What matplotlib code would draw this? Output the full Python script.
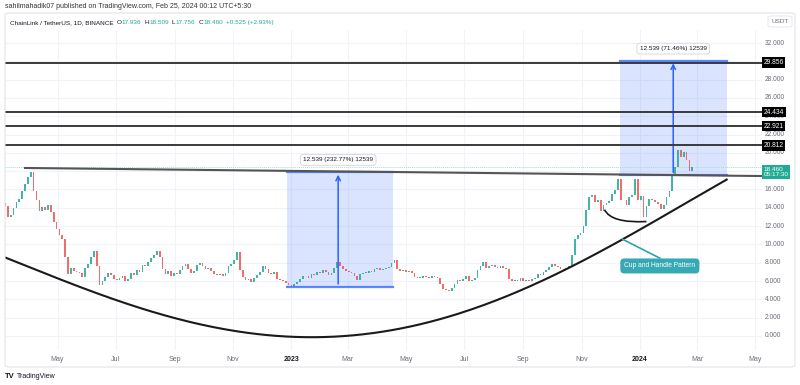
import numpy as np
import pandas as pd
import matplotlib
matplotlib.use("Agg")
import matplotlib.pyplot as plt
import matplotlib.dates as mdates
from matplotlib.patches import Rectangle, FancyBboxPatch, PathPatch
from matplotlib.path import Path

plt.rcParams["font.family"] = ["Liberation Sans", "DejaVu Sans"]

# closes every 3 days, 2022-03-07 .. 2024-02-25
closes = [
    14.2, 13.0, 13.2, 14.0, 14.6, 15.0, 15.8, 16.6, 17.4,            # Mar 22
    17.9, 15.8, 14.9, 13.7, 14.1, 13.8, 14.3, 13.5, 12.4, 11.7,      # Apr
    11.0, 10.6, 8.6, 6.8, 7.4, 7.1, 7.0, 6.9, 6.4, 7.4,              # May
    7.9, 8.6, 9.3, 7.6, 5.6, 6.0, 6.4, 6.9, 6.7, 6.2,                # Jun
    6.1, 6.3, 6.6, 6.0, 6.2, 6.9, 6.7, 7.2, 7.0, 7.8,                # Jul
    7.6, 8.1, 8.5, 8.8, 9.3, 8.6, 7.3, 6.8, 7.1, 6.6, 6.9,           # Aug
    6.8, 7.2, 7.6, 7.9, 7.3, 6.9, 7.1, 7.8, 8.0, 7.6,                # Sep
    7.3, 7.4, 7.1, 6.8, 6.7, 6.8, 6.6, 6.9, 7.6, 7.9,                # Oct
    8.3, 9.2, 7.2, 6.4, 6.1, 6.2, 5.9, 6.3, 6.7, 7.0,                # Nov
    7.6, 7.3, 6.9, 6.8, 7.0, 6.2, 6.1, 6.0, 5.8, 5.6,                # Dec
    5.5, 5.7, 5.9, 6.2, 6.6, 6.5, 6.3, 6.8, 6.7, 7.0, 6.9,           # Jan 23
    7.2, 7.0, 6.7, 6.9, 7.4, 8.1, 7.6, 7.3, 7.1,                     # Feb
    7.0, 6.9, 6.5, 6.1, 6.8, 6.9, 6.9, 7.1, 7.0, 7.3,                # Mar
    7.4, 7.2, 7.3, 7.4, 7.5, 8.0, 8.3, 7.3, 7.1, 7.2,                # Apr
    7.0, 7.1, 6.9, 6.4, 6.3, 6.3, 6.5, 6.4, 6.3, 6.6, 6.4,           # May
    6.3, 5.7, 5.1, 5.0, 4.9, 5.2, 5.7, 6.1, 6.0, 6.2,                # Jun
    6.5, 6.0, 6.1, 6.3, 7.2, 7.6, 8.1, 7.4, 7.6, 7.8,                # Jul
    7.5, 7.4, 7.6, 7.4, 7.3, 6.2, 6.0, 6.1, 6.0, 6.3,                # Aug
    6.0, 6.1, 6.0, 6.2, 6.3, 6.8, 6.7, 7.0, 7.2, 7.5,                # Sep
    7.9, 7.6, 7.5, 7.3, 7.2, 7.4, 7.6, 8.8, 10.6, 11.0, 11.3,        # Oct
    12.0, 13.8, 15.2, 15.4, 14.6, 14.8, 13.6, 14.3, 14.5, 14.7,      # Nov
    15.5, 15.9, 17.1, 14.9, 14.8, 14.3, 15.2, 15.4, 17.2, 14.8,      # Dec
    15.3, 13.0, 14.2, 15.0, 14.8, 14.6, 14.4, 13.9, 14.3, 15.2,      # Jan 24
    15.8, 17.6, 18.5, 20.3, 19.6, 20.1, 19.2, 18.0, 18.46,           # Feb
]
close_dates = pd.date_range("2022-03-07", "2024-02-25", freq="3D")
first_open = 14.5

level_prices = [29.856, 24.434, 22.921, 20.812]
last_price = 18.460
last_timer = "05:17:30"

resist_dates = ["2022-03-28", "2024-05-08"]
resist_prices = [18.35, 17.47]

cup_dates = ["2022-03-08", "2022-05-29", "2022-09-03", "2022-12-31", "2023-04-21",
             "2023-06-05", "2023-07-10", "2023-08-07", "2023-09-04", "2023-10-09",
             "2023-12-14", "2024-01-08", "2024-03-03", "2024-04-01"]
cup_prices = [8.6, 5.1, 1.75, 0.2, 0.87, 1.75, 2.9, 3.9, 5.0, 6.9, 10.6, 12.5, 15.2, 17.0]

handle_dates = ["2023-11-25", "2023-12-02", "2024-01-08"]
handle_prices = [13.8, 12.3, 12.5]

measure_base = [5.387, 17.547]
measure_move = [12.539, 12.539]
measure_pct = ["232.77%", "71.46%"]
measure_start = ["2022-12-27", "2023-12-11"]
measure_end = ["2023-04-17", "2024-04-01"]
measure_mid = ["2023-02-19", "2024-02-05"]

price_ticks = [0, 2, 4, 6, 8, 10, 12, 14, 16, 20, 22, 24, 26, 28, 32]
grid_prices = list(range(0, 34, 2))
month_ticks = ["2022-05-01", "2022-07-01", "2022-09-01", "2022-11-01", "2023-01-01",
               "2023-03-01", "2023-05-01", "2023-07-01", "2023-09-01", "2023-11-01",
               "2024-01-01", "2024-03-01", "2024-05-01"]
month_labels = ["May", "Jul", "Sep", "Nov", "2023", "Mar", "May", "Jul", "Sep", "Nov",
                "2024", "Mar", "May"]

legend_parts = [("ChainLink / TetherUS, 1D, BINANCE", 0), ("O", 0), ("17.936", 1),
                ("H", 0), ("18.509", 1), ("L", 0), ("17.756", 1), ("C", 0),
                ("18.460", 1), ("+0.525 (+2.93%)", 1)]

GREEN = "#26a69a"
RED = "#ef5350"
BLUE = "#2962ff"
TXT = "#6a6d78"

fig = plt.figure(figsize=(8, 3.85), dpi=100)
ax = fig.add_axes([5 / 800, 1 - 350 / 385, 757 / 800, 320 / 385])
d = lambda s: mdates.date2num(pd.Timestamp(s))

ax.set_xlim(d("2022-03-07"), d("2024-05-08"))
ax.set_ylim(-1.53, 33.42)
for s in ax.spines.values():
    s.set_visible(False)
ax.set_xticks([])
ax.set_yticks([])

# grid
for m in month_ticks:
    ax.axvline(d(m), color="#f0f3fa", lw=0.8, zorder=0)
for p in grid_prices:
    ax.axhline(p, color="#f0f3fa", lw=0.8, zorder=0)

# candles
c = np.array(closes)
o = np.array([first_open] + closes[:-1])
xs = mdates.date2num(close_dates)
lo = np.minimum(o, c)
h = np.maximum(np.abs(c - o), 0.1)
cols = [GREEN if cc >= oo else RED for oo, cc in zip(o, c)]
ax.bar(xs, h, bottom=lo, width=1.8, color=cols, linewidth=0, alpha=0.85, zorder=2)

# measurement boxes
for base, mv, pct, s0, s1, sm in zip(measure_base, measure_move, measure_pct,
                                     measure_start, measure_end, measure_mid):
    x0, x1 = d(s0), d(s1)
    ax.add_patch(Rectangle((x0, base), x1 - x0, mv, fc=BLUE, alpha=0.17, lw=0, zorder=1))
    ax.plot([x0, x1], [base, base], color=BLUE, lw=1.6, alpha=0.75, zorder=3)
    ax.plot([x0, x1], [base + mv, base + mv], color=BLUE, lw=1.6, alpha=0.75, zorder=3)
    ax.annotate("", xy=(d(sm), base + mv), xytext=(d(sm), base),
                arrowprops=dict(arrowstyle="->", color=BLUE, lw=1.1,
                                mutation_scale=8), zorder=4)
    ax.text(d(sm), base + mv + 1.3, f"{mv:.3f} ({pct}) {int(round(mv * 1000))}",
            ha="center", va="center", fontsize=4.6, color="#131722", zorder=6,
            bbox=dict(boxstyle="round,pad=0.45", fc="white", ec="#d1d4dc", lw=0.6))

# horizontal levels
for p in level_prices:
    ax.axhline(p, color="#3a3a3a", lw=1.4, zorder=5)
ax.plot([d(v) for v in resist_dates], resist_prices, color="#555555", lw=1.5, zorder=5)
ax.axhline(last_price, color="#a6ddd4", lw=0.7, ls=(0, (1, 1)), zorder=1)

# cup curve (smooth fit of the traced points)
cx = np.array([d(v) for v in cup_dates])
coef = np.polyfit(cx - cx[0], cup_prices, 4)
tt = np.linspace(0, cx[-1] - cx[0], 300)
ax.plot(tt + cx[0], np.polyval(coef, tt), color="#1a1a1a", lw=1.5, zorder=5)

# handle
hv = [(d(a), b) for a, b in zip(handle_dates, handle_prices)]
ax.add_patch(PathPatch(Path(hv, [Path.MOVETO, Path.CURVE3, Path.CURVE3]),
                       fc="none", ec="#1a1a1a", lw=1.2, zorder=5))

# pattern label
ax.plot([d("2023-12-14"), d("2024-01-22")], [10.56, 8.5], color="#2ea3ad", lw=1.2, zorder=5)
ax.text(d("2024-01-22"), 7.65, "Cup and Handle Pattern", ha="center", va="center",
        fontsize=4.8, color="white", zorder=6,
        bbox=dict(boxstyle="round,pad=0.6", fc="#36a9b4", ec="none"))

# price axis labels
ytr = ax.get_yaxis_transform()
for p in price_ticks:
    ax.text(1.004, p, f"{p:.3f}", transform=ytr, ha="left", va="center",
            fontsize=4.8, color=TXT, clip_on=False)
for p in level_prices:
    ax.text(1.002, p, f"{p:.3f}", transform=ytr, ha="left", va="center",
            fontsize=4.8, color="white", clip_on=False, zorder=8,
            bbox=dict(boxstyle="square,pad=0.25", fc="black", ec="none"))
ax.text(1.002, last_price - 0.55, f"{last_price:.3f}\n{last_timer}", transform=ytr,
        ha="left", va="center", fontsize=4.6, color="white", clip_on=False, zorder=8,
        linespacing=1.1, bbox=dict(boxstyle="square,pad=0.3", fc="#22ab94", ec="none"))

# date labels
xtr = ax.get_xaxis_transform()
for m, lab in zip(month_ticks, month_labels):
    ax.text(d(m), -0.031, lab, transform=xtr, ha="center", va="center",
            fontsize=5, color="#131722" if lab.isdigit() else TXT,
            fontweight="bold" if lab.isdigit() else "normal", clip_on=False)

# frame and header texts
fig.add_artist(FancyBboxPatch((5 / 800, 1 - 367 / 385), 790 / 800, 354 / 385,
                              boxstyle="round,pad=0,rounding_size=0.006",
                              transform=fig.transFigure, fc="none", ec="#e0e3eb", lw=0.8))
fig.add_artist(FancyBboxPatch((768 / 800, 1 - 27 / 385), 24 / 800, 11 / 385,
                              boxstyle="round,pad=0,rounding_size=0.004",
                              transform=fig.transFigure, fc="white", ec="#e0e3eb", lw=0.6))
fig.text(780 / 800, 1 - 21.5 / 385, "USDT", ha="center", va="center", fontsize=4.6, color=TXT)

fig.text(5 / 800, 1 - 6.5 / 385,
         "sahilmahadik07 published on TradingView.com, Feb 25, 2024 00:12 UTC+5:30",
         ha="left", va="center", fontsize=5, color="#333333")

# legend line: chain the pieces one after another
renderer = fig.canvas.get_renderer()
hy = 1 - 22.5 / 385
xpx = 10
for i, (txt, teal) in enumerate(legend_parts):
    t = fig.text(xpx / 800, hy, txt, ha="left", va="center", fontsize=4.6,
                 color=GREEN if teal else "#131722")
    w = t.get_window_extent(renderer).width
    nxt = legend_parts[i + 1][1] if i + 1 < len(legend_parts) else 0
    xpx += w + (0.3 if (not teal and nxt) else 3)

fig.text(5 / 800, 1 - 377 / 385, "TV", ha="left", va="center", fontsize=5.5,
         fontweight="bold", color="#131722")
fig.text(17 / 800, 1 - 377 / 385, "TradingView", ha="left", va="center", fontsize=5,
         color="#131722")

fig.savefig("out.png", dpi=100, facecolor="white")
